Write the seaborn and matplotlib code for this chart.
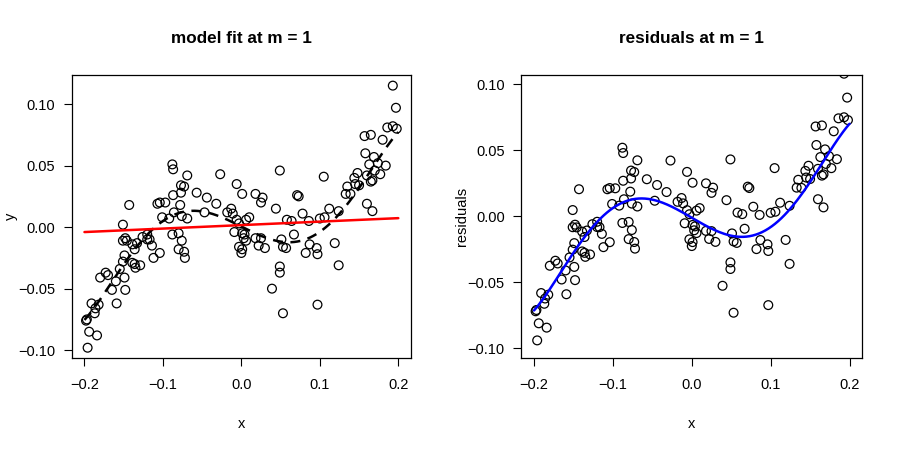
import numpy as np
import pandas as pd
import seaborn as sns
import matplotlib
import matplotlib.pyplot as plt

matplotlib.use('Agg')

# values
x = [-0.088, -0.087, -0.069, -0.077, -0.073, -0.087, -0.077, -0.143, -0.107, -0.104,
     -0.097, -0.078, -0.101, -0.092, -0.086, -0.076, -0.151, -0.151, -0.148, -0.146,
     -0.139, -0.133, -0.126, -0.120, -0.120, -0.117, -0.136, -0.114, -0.149, -0.151,
     -0.139, -0.136, -0.129, -0.135, -0.112, -0.104, -0.088, -0.080, -0.076, -0.080,
     -0.073, -0.072, -0.173, -0.180, -0.170, -0.149, -0.155, -0.160, -0.165, -0.148,
     -0.159, -0.191, -0.182, -0.186, -0.187, -0.197, -0.198, -0.194, -0.184, -0.196,
     -0.027, 0.049, -0.006, 0.001, 0.018, 0.027, 0.025, 0.071, -0.057, -0.044,
     -0.032, -0.013, -0.018, -0.011, -0.047, 0.044, 0.010, -0.006, 0.006, 0.058,
     0.064, -0.069, -0.003, -0.009, 0.001, 0.004, 0.003, 0.006, 0.018, 0.025,
     0.022, 0.030, -0.003, 0.001, 0.000, 0.051, 0.053, 0.057, 0.067, 0.049,
     0.049, 0.039, 0.053, 0.193, 0.197, 0.186, 0.193, 0.198, 0.157, 0.165,
     0.180, 0.158, 0.169, 0.163, 0.174, 0.184, 0.170, 0.177, 0.160, 0.165,
     0.167, 0.105, 0.148, 0.144, 0.145, 0.150, 0.135, 0.133, 0.139, 0.073,
     0.160, 0.167, 0.112, 0.124, 0.078, 0.086, 0.100, 0.106, 0.119, 0.087,
     0.082, 0.096, 0.097, 0.124, 0.097]
y = [0.051, 0.047, 0.042, 0.034, 0.033, 0.026, 0.028, 0.018, 0.019, 0.020,
     0.020, 0.018, 0.008, 0.007, 0.012, 0.009, 0.002, -0.011, -0.009, -0.011,
     -0.014, -0.013, -0.008, -0.006, -0.010, -0.010, -0.018, -0.015, -0.023, -0.028,
     -0.029, -0.030, -0.031, -0.033, -0.025, -0.021, -0.006, -0.005, -0.011, -0.018,
     -0.020, -0.025, -0.037, -0.041, -0.039, -0.041, -0.034, -0.044, -0.051, -0.051,
     -0.062, -0.062, -0.063, -0.066, -0.070, -0.075, -0.076, -0.085, -0.088, -0.098,
     0.043, 0.046, 0.035, 0.027, 0.027, 0.024, 0.020, 0.026, 0.028, 0.024,
     0.019, 0.015, 0.012, 0.011, 0.012, 0.015, 0.008, 0.006, 0.006, 0.006,
     0.005, 0.007, 0.003, -0.004, -0.005, -0.006, -0.009, -0.011, -0.009, -0.009,
     -0.015, -0.017, -0.016, -0.018, -0.021, -0.010, -0.016, -0.017, -0.006, -0.032,
     -0.037, -0.050, -0.070, 0.115, 0.097, 0.081, 0.082, 0.080, 0.074, 0.075,
     0.071, 0.060, 0.057, 0.051, 0.052, 0.050, 0.046, 0.043, 0.042, 0.037,
     0.038, 0.041, 0.044, 0.040, 0.035, 0.034, 0.033, 0.027, 0.027, 0.025,
     0.019, 0.013, 0.015, 0.013, 0.011, 0.005, 0.007, 0.008, -0.013, -0.014,
     -0.021, -0.017, -0.022, -0.031, -0.063]

# true curve (black dashes), read at a few places along it
true_x = [-0.2, -0.177, -0.153, -0.129, -0.117, -0.085, -0.053, -0.035, -0.018, 0.016,
          0.032, 0.050, 0.067, 0.086, 0.102, 0.117, 0.127, 0.140, 0.150, 0.163,
          0.174, 0.186, 0.197, 0.2]
true_y = [-0.076, -0.054, -0.034, -0.014, -0.005, 0.012, 0.014, 0.011, 0.006, -0.006,
          -0.010, -0.012, -0.012, -0.009, -0.002, 0.006, 0.013, 0.024, 0.033, 0.042,
          0.053, 0.065, 0.075, 0.079]

# the model at m = 1 (red line), read at its two ends
fit_x = [-0.2, 0.2]
fit_y = [-0.0040, 0.0073]

titles = ['model fit at m = 1', 'residuals at m = 1']
x_ticks = [-0.2, -0.1, 0.0, 0.1, 0.2]
x_labels = ['\u22120.2', '\u22120.1', '0.0', '0.1', '0.2']
y_ticks = [-0.10, -0.05, 0.0, 0.05, 0.10]
y_labels = ['\u22120.10', '\u22120.05', '0.00', '0.05', '0.10']
resid_ylim = [-0.1076, 0.1068]

df = pd.DataFrame({'x': x, 'y': y})
df['fit'] = np.interp(df.x, fit_x, fit_y)
df['residuals'] = df.y - df.fit

# smooth curves through the read values
grid = pd.DataFrame({'x': np.linspace(-0.2, 0.2, 200)})
grid['fit'] = np.interp(grid.x, fit_x, fit_y)
grid['truth'] = np.polyval(np.polyfit(true_x, true_y, 5), grid.x)
grid['left'] = grid.truth - grid.fit

sns.set_style('ticks')
plt.rcParams['font.family'] = ['Liberation Sans', 'DejaVu Sans']
plt.rcParams.update({'text.color': 'black', 'axes.labelcolor': 'black',
                     'xtick.color': 'black', 'ytick.color': 'black',
                     'axes.edgecolor': 'black'})

fig = plt.figure(figsize=(8.99, 4.5), dpi=100)
ax1 = fig.add_axes([0.080, 0.204, 0.377, 0.629])
ax2 = fig.add_axes([0.580, 0.204, 0.379, 0.629])


def r_style(ax, title, ylabel, ylim, ylab_x):
    ax.set_title(title, fontsize=12.3, fontweight='bold', pad=23)
    ax.set_xlabel('x', fontsize=10.5, labelpad=18)
    ax.set_ylabel(ylabel, fontsize=10.5)
    ax.yaxis.set_label_coords(ylab_x, 0.5)
    ax.set_xticks(x_ticks)
    ax.set_xticklabels(x_labels)
    ax.set_yticks(y_ticks)
    ax.set_yticklabels(y_labels)
    ax.set_xlim(-0.216, 0.216)
    ax.set_ylim(*ylim)
    ax.tick_params(axis='x', length=6, width=0.8, labelsize=10.5, pad=8, direction='out')
    ax.tick_params(axis='y', length=6, width=0.8, labelsize=10.5, pad=6, direction='out')
    for s in ax.spines.values():
        s.set_linewidth(0.9)
        s.set_color('black')
        s.set_visible(True)


sns.scatterplot(data=df, x='x', y='y', ax=ax1, s=40, fc='none', ec='black',
                linewidth=0.9, zorder=3)
sns.lineplot(data=grid, x='x', y='truth', ax=ax1, color='black', lw=1.8,
             linestyle=(0, (4, 3)), zorder=2)
sns.lineplot(data=grid, x='x', y='fit', ax=ax1, color='red', lw=1.8, zorder=4)
pad = 0.04 * (df.y.max() - df.y.min())
r_style(ax1, titles[0], 'y', (df.y.min() - pad, df.y.max() + pad), -0.16)

sns.scatterplot(data=df, x='x', y='residuals', ax=ax2, s=40, fc='none', ec='black',
                linewidth=0.9, zorder=3)
sns.lineplot(data=grid, x='x', y='left', ax=ax2, color='blue', lw=1.8, zorder=4)
r_style(ax2, titles[1], 'residuals', resid_ylim, -0.155)

fig.savefig('out.png', dpi=100)
